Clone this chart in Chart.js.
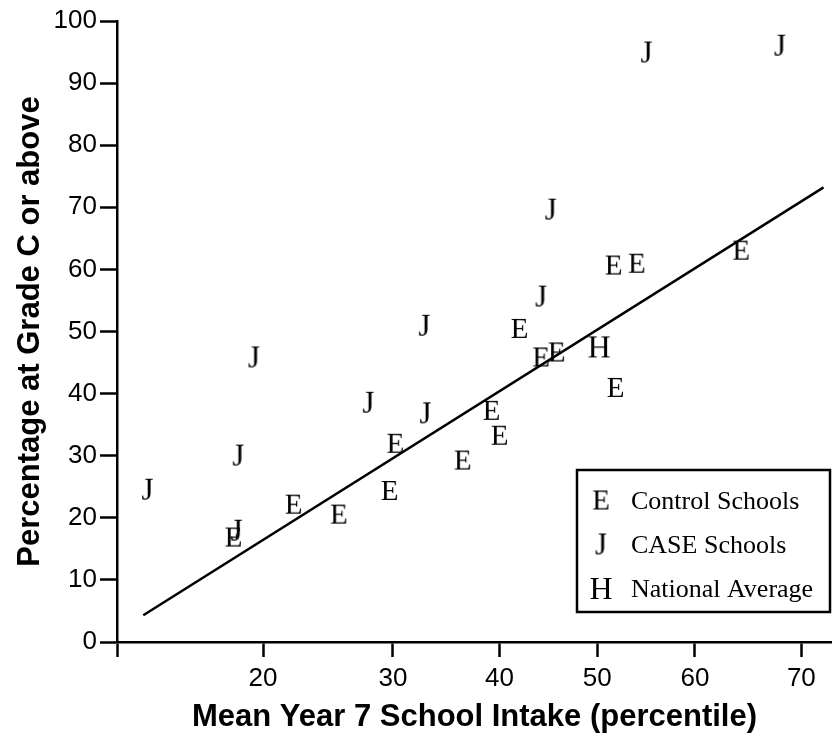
<!DOCTYPE html>
<html>
<head>
<meta charset="utf-8">
<script src="https://cdn.jsdelivr.net/npm/chart.js@4.4.0/dist/chart.umd.min.js"></script>
<style>
html, body { margin: 0; padding: 0; background: #fff; }
#wrap { width: 832px; height: 736px; }
</style>
</head>
<body>
<div id="wrap"><canvas id="chart" width="832" height="736"></canvas></div>
<script>
// x = mean Year 7 intake (percentile), y = % at grade C or above
const controlX = [18.1, 22.1, 25.5, 29.7, 30.2, 36.4, 39.2, 40.0, 42.0, 44.2, 45.8, 51.7, 51.9, 54.1, 64.5];
const controlY = [16.9, 22.2, 20.6, 24.4, 32.0, 29.3, 37.3, 33.3, 50.5, 45.9, 46.7, 60.7, 41.0, 61.0, 63.1];
const caseX = [13.4, 18.3, 18.4, 19.4, 27.9, 32.8, 32.9, 44.2, 45.2, 55.1, 68.1];
const caseY = [24.6, 18.0, 30.1, 45.9, 38.6, 51.0, 36.9, 55.7, 69.7, 95.0, 96.1];
const nationalX = [50.2];
const nationalY = [47.6];
const fitX = [13.2, 71.9];
const fitY = [4.3, 73.2];
const xTicks = [20, 30, 40, 50, 60, 70];
const xMin = 12, xMax = 72.6;
const seriesLabels = ['Control Schools', 'CASE Schools', 'National Average'];

const toPoints = (xs, ys) => xs.map((x, i) => ({ x: x, y: ys[i] }));

// letter markers (the original symbols came out as Times letters)
function letterMarker(ch, size) {
    const c = document.createElement('canvas');
    const w = Math.ceil(size * 1.0), h = Math.ceil(size * 1.0);
    c.width = w; c.height = h;
    const g = c.getContext('2d');
    g.fillStyle = '#000';
    g.font = size + 'px "Liberation Serif", "Times New Roman", serif';
    g.textAlign = 'center';
    g.textBaseline = 'alphabetic';
    g.fillText(ch, w / 2, h / 2 + size * 0.33);
    return c;
}
const markE = letterMarker('E', 29);
const markJ = letterMarker('J', 31);
const markH = letterMarker('H', 32);

// percentile axis on a logit scale
const LinearScale = Chart.LinearScale || Chart.registry.getScale('linear');
const logit = p => Math.log(p / (100 - p));
class LogitScale extends LinearScale {
    getPixelForValue(value) {
        if (value === null || value === undefined || isNaN(value)) return NaN;
        const a = logit(this.min), b = logit(this.max);
        return this.getPixelForDecimal((logit(value) - a) / (b - a));
    }
    getValueForPixel(pixel) {
        const a = logit(this.min), b = logit(this.max);
        const l = a + this.getDecimalForPixel(pixel) * (b - a);
        return 100 / (1 + Math.exp(-l));
    }
}
LogitScale.id = 'logitPct';
LogitScale.defaults = LinearScale.defaults;
Chart.register(LogitScale);

// boxed legend in the lower right of the plot
const boxLegend = {
    id: 'boxLegend',
    afterDraw(chart) {
        const ctx = chart.ctx;
        const area = chart.chartArea;
        const x0 = area.right - 255, y0 = area.bottom - 172, w = 253, h = 142;
        ctx.save();
        ctx.strokeStyle = '#000';
        ctx.lineWidth = 2.5;
        ctx.strokeRect(x0, y0, w, h);
        ctx.fillStyle = '#000';
        ctx.font = '26px "Liberation Serif", "Times New Roman", serif';
        ctx.textBaseline = 'alphabetic';
        ctx.textAlign = 'left';
        [0, 1, 2].forEach(i => {
            const ds = chart.data.datasets[i];
            const cy = y0 + 30 + i * 44;
            const img = ds.pointStyle;
            ctx.drawImage(img, x0 + 24 - img.width / 2, cy - img.height / 2);
            ctx.fillText(ds.label, x0 + 54, cy + 9);
        });
        ctx.restore();
    }
};

const tickFont = { family: '"Liberation Sans", Arial', size: 26 };
const titleFont = { family: '"Liberation Sans", Arial', size: 31, weight: 'bold' };

const ctx = document.getElementById('chart').getContext('2d');
new Chart(ctx, {
    type: 'scatter',
    data: {
        datasets: [
            { label: seriesLabels[0], data: toPoints(controlX, controlY), pointStyle: markE, pointRadius: 5 },
            { label: seriesLabels[1], data: toPoints(caseX, caseY), pointStyle: markJ, pointRadius: 5 },
            { label: seriesLabels[2], data: toPoints(nationalX, nationalY), pointStyle: markH, pointRadius: 5 },
            { type: 'line', label: 'fit', data: toPoints(fitX, fitY), borderColor: '#000', borderWidth: 2.5,
              pointRadius: 0, fill: false, tension: 0 }
        ]
    },
    options: {
        responsive: false,
        animation: false,
        events: [],
        layout: { autoPadding: false, padding: { top: 21, right: 0, left: 0, bottom: 0 } },
        plugins: { legend: { display: false }, tooltip: { enabled: false } },
        scales: {
            x: {
                type: 'logitPct',
                min: xMin,
                max: xMax,
                afterBuildTicks: s => { s.ticks = [{ value: xMin }].concat(xTicks.map(v => ({ value: v }))); },
                afterFit: s => { s.height = 94; s.paddingLeft = 0; s.paddingRight = 0; },
                grid: { drawOnChartArea: false, tickLength: 15, tickWidth: 2.5, tickColor: '#000' },
                border: { display: true, color: '#000', width: 2.5 },
                ticks: {
                    autoSkip: false, maxRotation: 0, padding: 6, color: '#000', font: tickFont,
                    callback: v => (v === xMin ? '' : String(v))
                },
                title: {
                    display: true, text: 'Mean Year 7 School Intake (percentile)', color: '#000',
                    font: titleFont, padding: { top: 0, bottom: 0 }
                }
            },
            y: {
                min: 0,
                max: 100,
                afterFit: s => { s.width = 117; },
                grid: { drawOnChartArea: false, tickLength: 17, tickWidth: 2.5, tickColor: '#000' },
                border: { display: true, color: '#000', width: 2.5 },
                ticks: { stepSize: 10, padding: 3, color: '#000', font: tickFont },
                title: {
                    display: true, text: 'Percentage at Grade C or above', color: '#000',
                    font: titleFont, padding: { top: 12, bottom: 0 }
                }
            }
        }
    },
    plugins: [boxLegend]
});
</script>
</body>
</html>
